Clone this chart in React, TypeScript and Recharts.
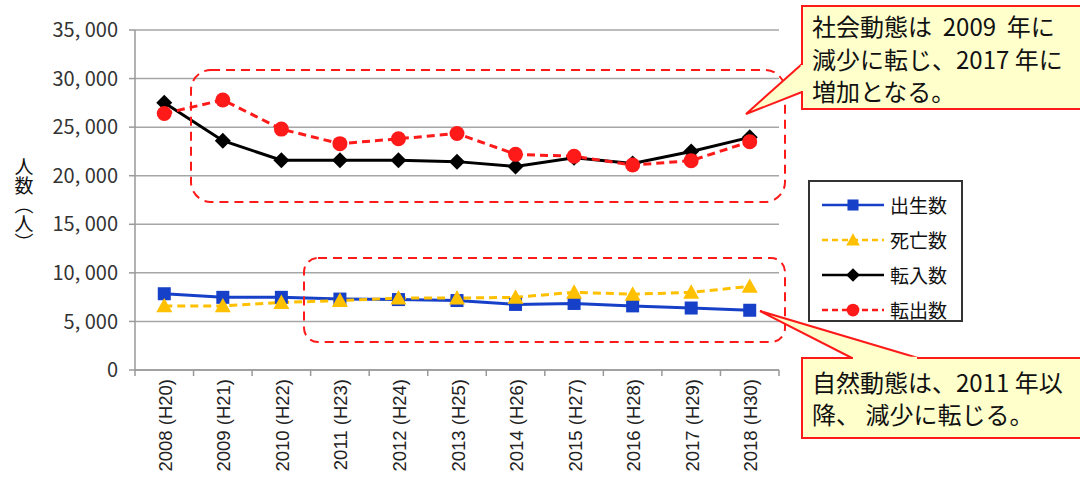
import { LineChart, Line, XAxis, YAxis, CartesianGrid } from "recharts";

// 年次ラベル
const years = [
  "2008 (H20)", "2009 (H21)", "2010 (H22)", "2011 (H23)", "2012 (H24)", "2013 (H25)",
  "2014 (H26)", "2015 (H27)", "2016 (H28)", "2017 (H29)", "2018 (H30)",
];
const births = [7850, 7480, 7480, 7300, 7250, 7150, 6750, 6850, 6600, 6380, 6150];
const deaths = [6600, 6600, 6950, 7150, 7400, 7400, 7480, 8000, 7800, 8000, 8600];
const moveIn = [27500, 23600, 21600, 21600, 21600, 21450, 20950, 21850, 21250, 22500, 23950];
const moveOut = [26400, 27800, 24800, 23300, 23800, 24350, 22200, 22000, 21100, 21550, 23500];
const yTicks = [0, 5000, 10000, 15000, 20000, 25000, 30000, 35000];

const data = years.map((year, i) => ({
  year,
  births: births[i],
  deaths: deaths[i],
  moveIn: moveIn[i],
  moveOut: moveOut[i],
}));

const W = 1080;
const H = 480;
const PLOT_L = 135;
const PLOT_R = 779;
const PLOT_T = 30;
const PLOT_B = 370;
const BAND = (PLOT_R - PLOT_L) / years.length;

const JP = '"Noto Sans CJK JP", "Noto Sans", sans-serif';
const BLUE = "#1740c8";
const YELLOW = "#ffc000";
const RED = "#ff1a1a";

const series = [
  { key: "births", name: "出生数", color: BLUE, dash: undefined, shape: "square" },
  { key: "deaths", name: "死亡数", color: YELLOW, dash: "8 5", shape: "triangle" },
  { key: "moveIn", name: "転入数", color: "#000000", dash: undefined, shape: "diamond" },
  { key: "moveOut", name: "転出数", color: RED, dash: "8 5", shape: "circle" },
];

function Marker({ shape, cx, cy, color, s = 1 }: any) {
  if (cx == null || cy == null) return null;
  if (shape === "square") {
    const h = 6.5 * s;
    return <rect x={cx - h} y={cy - h} width={h * 2} height={h * 2} fill={color} />;
  }
  if (shape === "triangle") {
    const h = 8 * s;
    return <polygon points={`${cx},${cy - h} ${cx + h},${cy + h * 0.8} ${cx - h},${cy + h * 0.8}`} fill={color} />;
  }
  if (shape === "diamond") {
    const h = 8 * s;
    return <polygon points={`${cx},${cy - h} ${cx + h},${cy} ${cx},${cy + h} ${cx - h},${cy}`} fill={color} />;
  }
  return <circle cx={cx} cy={cy} r={7.5 * s} fill={color} />;
}

function XTick(props: any) {
  const { x, payload, index } = props;
  return (
    <g>
      <line x1={x - BAND / 2} y1={PLOT_B} x2={x - BAND / 2} y2={PLOT_B + 6} stroke="#999" strokeWidth={1.5} />
      {index === years.length - 1 && (
        <line x1={x + BAND / 2} y1={PLOT_B} x2={x + BAND / 2} y2={PLOT_B + 6} stroke="#999" strokeWidth={1.5} />
      )}
      <text
        x={x + 1}
        y={PLOT_B + 9}
        transform={`rotate(-90 ${x + 1} ${PLOT_B + 9})`}
        textAnchor="end"
        dominantBaseline="central"
        fontFamily='"Liberation Sans", Arial, sans-serif'
        fontSize={18.5}
        fill="#222"
      >
        {payload.value}
      </text>
    </g>
  );
}

function LegendBox() {
  return (
    <div
      style={{
        position: "absolute",
        left: 808,
        top: 180,
        border: "2px solid #333",
        width: 155,
        height: 142,
        boxSizing: "border-box",
        background: "#fff",
        padding: "5px 0 0 10px",
      }}
    >
      {series.map((s) => (
        <div key={s.key} style={{ display: "flex", alignItems: "center", height: 35 }}>
          <svg width={66} height={20}>
            <line x1={2} y1={10} x2={64} y2={10} stroke={s.color} strokeWidth={2.5} strokeDasharray={s.dash ? "6 4" : undefined} />
            <Marker shape={s.shape} cx={33} cy={10} color={s.color} s={0.85} />
          </svg>
          <span style={{ fontFamily: JP, fontSize: 19, color: "#111", marginLeft: 4, lineHeight: 1 }}>{s.name}</span>
        </div>
      ))}
    </div>
  );
}

function Callout({ box, tip, lines, lineY }: any) {
  const [x, y, w, h] = box;
  return (
    <g>
      <rect x={x} y={y} width={w} height={h} fill="#ffffcc" stroke={RED} strokeWidth={2} />
      <polygon points={tip} fill="#ffffcc" stroke={RED} strokeWidth={2} strokeLinejoin="miter" />
      {lines.map((t: string, i: number) => (
        <text key={i} x={x + 10} y={lineY[i]} fontFamily={JP} fontSize={24} fill="#111" dominantBaseline="central" style={{ whiteSpace: "pre" }}>
          {t}
        </text>
      ))}
    </g>
  );
}

export default function App() {
  return (
    <div style={{ position: "absolute", left: 0, top: 0, width: W, height: H, background: "#fff" }}>
      <LineChart
        width={W}
        height={H}
        data={data}
        margin={{ top: PLOT_T, right: W - PLOT_R, bottom: 0, left: 0 }}
      >
        <CartesianGrid vertical={false} stroke="#a6a6a6" strokeWidth={1.5} />
        <XAxis
          dataKey="year"
          height={H - PLOT_B}
          interval={0}
          padding={{ left: BAND / 2, right: BAND / 2 }}
          tickLine={false}
          axisLine={{ stroke: "#999", strokeWidth: 1.5 }}
          tick={<XTick />}
        />
        <YAxis
          width={PLOT_L}
          domain={[0, 35000]}
          ticks={yTicks}
          interval={0}
          tickSize={6}
          tickMargin={11}
          axisLine={{ stroke: "#999", strokeWidth: 1.5 }}
          tickLine={{ stroke: "#999", strokeWidth: 1.5 }}
          tick={{ fill: "#333", fontSize: 20, fontFamily: JP }}
          tickFormatter={(v: number) => v.toLocaleString("en-US").replace(",", ", ")}
        />
        {series.map((s) => (
          <Line
            key={s.key}
            dataKey={s.key}
            name={s.name}
            stroke={s.color}
            strokeWidth={3}
            strokeDasharray={s.dash}
            isAnimationActive={false}
            dot={(p: any) => <Marker key={`${s.key}-${p.index}`} shape={s.shape} cx={p.cx} cy={p.cy} color={s.color} />}
            activeDot={false}
          />
        ))}
      </LineChart>
      <LegendBox />
      <svg width={W} height={H} style={{ position: "absolute", left: 0, top: 0, pointerEvents: "none" }}>
        <text x={24} y={157} fontFamily={JP} fontSize={19} fill="#111" style={{ writingMode: "vertical-rl" } as any}>
          人数（人）
        </text>
        <rect x={191} y={70} width={594} height={132} rx={20} ry={20} fill="none" stroke={RED} strokeWidth={2} strokeDasharray="9 6" />
        <rect x={304} y={258} width={481} height={84} rx={14} ry={14} fill="none" stroke={RED} strokeWidth={2} strokeDasharray="9 6" />
        <Callout
          box={[802, 6, 284, 103]}
          tip="802,64 746,114 802,92"
          lines={["社会動態は  2009  年に", "減少に転じ、2017 年に", "増加となる。"]}
          lineY={[25, 58, 90]}
        />
        <Callout
          box={[802, 358, 284, 80]}
          tip="852,358 760,311 918,358"
          lines={["自然動態は、2011 年以", "降、 減少に転じる。"]}
          lineY={[381, 413]}
        />
        {/* 吹き出しの付け根を塗りつぶす */}
        <line x1={802} y1={65} x2={802} y2={91} stroke="#ffffcc" strokeWidth={2.5} />
        <line x1={853} y1={358} x2={917} y2={358} stroke="#ffffcc" strokeWidth={2.5} />
      </svg>
    </div>
  );
}
